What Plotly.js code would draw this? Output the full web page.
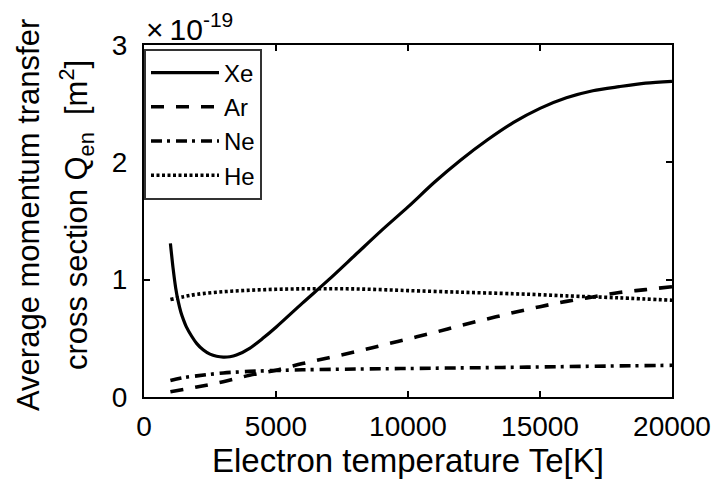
<!DOCTYPE html>
<html>
<head>
<meta charset="utf-8">
<script src="https://cdn.plot.ly/plotly-3.0.1.min.js"></script>
<style>html,body{margin:0;padding:0;background:#fff;}#chart{width:715px;height:485px;}</style>
</head>
<body>
<div id="chart"></div>
<script>
// Values in units of 1e-19 m^2
const xeT = [1000,1100,1200,1300,1400,1500,1600,1800,2000,2250,2500,2750,3000,3250,3500,4000,4500,5000,6000,7000,8000,9000,10000,11000,12000,13000,14000,15000,16000,17000,18000,19000,20000];
const xeQ = [1.31,1.10,0.93,0.81,0.72,0.655,0.60,0.52,0.455,0.40,0.365,0.347,0.34,0.343,0.357,0.415,0.50,0.595,0.80,1.00,1.21,1.42,1.62,1.83,2.02,2.19,2.34,2.46,2.55,2.61,2.645,2.675,2.69];

const arT = [1000,2000,3000,4000,5000,6000,7000,8000,9000,10000,11000,12000,13000,14000,15000,16000,17000,18000,19000,20000];
const arQ = [0.045,0.085,0.13,0.185,0.228,0.285,0.335,0.385,0.44,0.495,0.55,0.61,0.665,0.72,0.77,0.815,0.853,0.89,0.915,0.94];

const neT = [1000,1500,2000,2500,3000,4000,5000,6000,8000,10000,12000,14000,16000,18000,20000];
const neQ = [0.14,0.165,0.18,0.193,0.205,0.218,0.226,0.232,0.238,0.243,0.248,0.253,0.259,0.265,0.27];

const heT = [1000,1500,2000,3000,4000,5000,6000,7000,8000,9000,10000,12000,14000,15000,16000,18000,20000];
const heQ = [0.83,0.855,0.875,0.897,0.91,0.918,0.922,0.923,0.921,0.915,0.907,0.893,0.88,0.872,0.862,0.845,0.825];

const names = ['Xe','Ar','Ne','He'];
const xTicks = [0,5000,10000,15000,20000];
const yTicks = [0,1,2,3];
const yTitleLines = ['Average momentum transfer', 'cross section Q<sub>en</sub>  [m<sup>2</sup>]'];
const xTitle = 'Electron temperature Te[K]';
const multiplier = '×\u200910<sup>-19</sup>';

const FONT = 'Liberation Sans, Arial, Helvetica, sans-serif';

const traces = [
  {x: xeT, y: xeQ, name: names[0], mode: 'lines', line: {color: '#000', width: 3.2, shape: 'spline', smoothing: 0.8, dash: 'solid'}},
  {x: arT, y: arQ, name: names[1], mode: 'lines', line: {color: '#000', width: 3.6, shape: 'spline', dash: '13px,12px'}},
  {x: neT, y: neQ, name: names[2], mode: 'lines', line: {color: '#000', width: 3.6, shape: 'spline', dash: '11px,5px,3px,6px'}},
  {x: heT, y: heQ, name: names[3], mode: 'lines', line: {color: '#000', width: 3.6, shape: 'spline', dash: '3px,2.5px'}}
];

const axisCommon = {
  showline: true, linecolor: '#000', linewidth: 2, mirror: 'ticks',
  ticks: 'inside', ticklen: 6, tickwidth: 2, tickcolor: '#000',
  showgrid: false, zeroline: false,
  tickfont: {family: FONT, size: 28, color: '#000'}
};

const W = 715, H = 485, ML = 144, MR = 43, MT = 45, MB = 88;
const PW = W - ML - MR, PH = H - MT - MB;
const px2x = p => (p - ML) / PW;
const py2y = p => (H - MB - p) / PH;

const layout = {
  width: W, height: H,
  margin: {l: ML, r: MR, t: MT, b: MB, pad: 0},
  paper_bgcolor: '#fff', plot_bgcolor: '#fff',
  font: {family: FONT, color: '#000'},
  showlegend: true,
  legend: {
    x: 0.0, y: 0.99, xanchor: 'left', yanchor: 'top',
    bgcolor: '#fff', bordercolor: '#333', borderwidth: 2,
    font: {family: FONT, size: 24, color: '#000'},
    itemwidth: 68, tracegroupgap: 0
  },
  xaxis: Object.assign({}, axisCommon, {
    range: [0, 20000], tickvals: xTicks, ticktext: xTicks.map(String),
    ticklabelstandoff: 3,
    title: {text: xTitle, font: {family: FONT, size: 33, color: '#000'}, standoff: 3}
  }),
  yaxis: Object.assign({}, axisCommon, {
    range: [0, 3], tickvals: yTicks, ticktext: yTicks.map(String),
    ticklabelstandoff: 9,
    title: {text: ''}
  }),
  annotations: [
    {xref: 'paper', yref: 'paper', x: 0, y: 1, xanchor: 'left', yanchor: 'bottom',
     yshift: -3, text: multiplier, showarrow: false,
     font: {family: FONT, size: 30, color: '#000'}},
    {xref: 'paper', yref: 'paper', x: px2x(28), y: py2y(215), xanchor: 'center', yanchor: 'middle',
     textangle: -90, text: yTitleLines[0], showarrow: false,
     font: {family: FONT, size: 31, color: '#000'}},
    {xref: 'paper', yref: 'paper', x: px2x(76), y: py2y(215), xanchor: 'center', yanchor: 'middle',
     textangle: -90, text: yTitleLines[1], showarrow: false,
     font: {family: FONT, size: 31, color: '#000'}}
  ]
};

Plotly.newPlot('chart', traces, layout, {displayModeBar: false, staticPlot: true});
</script>
</body>
</html>
